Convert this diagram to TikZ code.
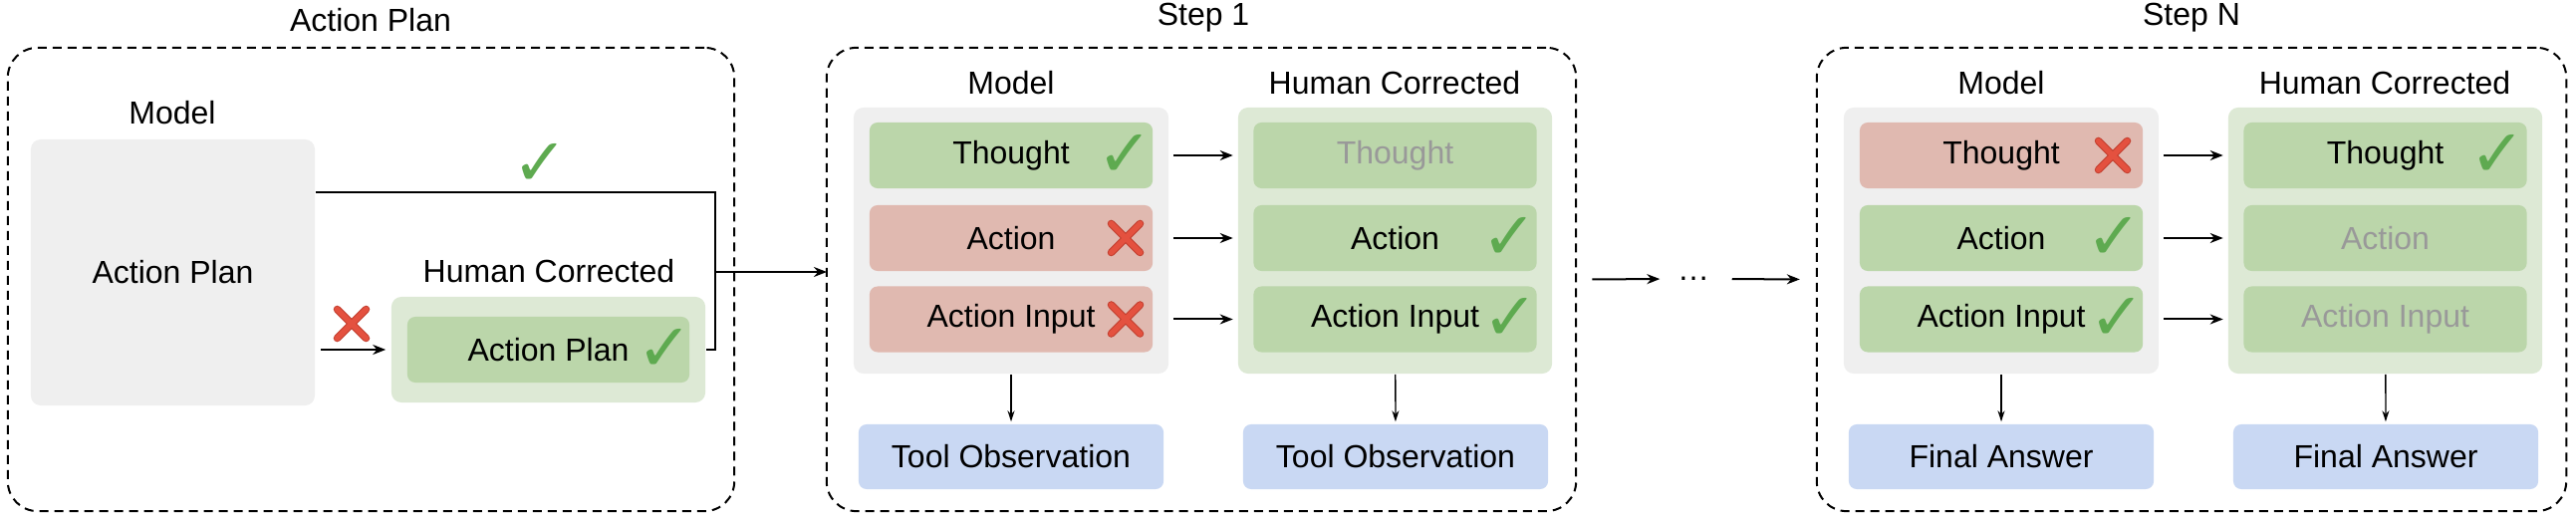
\documentclass[tikz,border=0pt]{standalone}
\usepackage{fontspec}
\setmainfont{Liberation Sans}
\newfontfamily\markfont{DejaVu Sans}
\usetikzlibrary{arrows.meta, positioning}
\definecolor{modelgray}{HTML}{EFEFEF}
\definecolor{hcgreen}{HTML}{DDE9D5}
\definecolor{okgreen}{HTML}{BBD6AA}
\definecolor{badred}{HTML}{E0B9B0}
\definecolor{obsblue}{HTML}{C9D8F3}
\definecolor{fadedgray}{HTML}{999999}
\definecolor{tickgreen}{HTML}{5EAA50}
\definecolor{crossred}{HTML}{E4513F}
\definecolor{crossdark}{HTML}{C23E2E}
\tikzstyle{dashframe} = [rectangle, draw=black, dash pattern=on 0.09cm off 0.06cm, line width=0.02cm, rounded corners=0.3cm, minimum width=7.52cm, minimum height=4.65cm]
\tikzstyle{modelbg} = [rectangle, rounded corners=0.1cm, fill=modelgray, minimum width=3.16cm, minimum height=2.67cm]
\tikzstyle{hcbg} = [rectangle, rounded corners=0.1cm, fill=hcgreen, minimum width=3.15cm, minimum height=2.67cm]
\tikzstyle{okbox} = [rectangle, rounded corners=0.08cm, fill=okgreen, minimum width=2.84cm, minimum height=0.66cm]
\tikzstyle{badbox} = [rectangle, rounded corners=0.08cm, fill=badred, minimum width=2.84cm, minimum height=0.66cm]
\tikzstyle{obsbox} = [rectangle, rounded corners=0.08cm, fill=obsblue, minimum width=3.06cm, minimum height=0.65cm]
\tikzstyle{faded} = [text=fadedgray]
\tikzstyle{okmark} = [inner sep=0, text=tickgreen, font=\markfont\fontsize{19}{19}\selectfont]
\tikzstyle{badmark} = [rectangle, inner sep=0, minimum size=0.42cm, path picture={
  \draw[crossdark, line width=0.075cm, line cap=round]
    ([shift={(0.065cm,-0.065cm)}]path picture bounding box.north west) -- ([shift={(-0.065cm,0.065cm)}]path picture bounding box.south east)
    ([shift={(-0.065cm,-0.065cm)}]path picture bounding box.north east) -- ([shift={(0.065cm,0.065cm)}]path picture bounding box.south west);
  \draw[crossred, line width=0.055cm, line cap=round]
    ([shift={(0.065cm,-0.065cm)}]path picture bounding box.north west) -- ([shift={(-0.065cm,0.065cm)}]path picture bounding box.south east)
    ([shift={(-0.065cm,-0.065cm)}]path picture bounding box.north east) -- ([shift={(0.065cm,0.065cm)}]path picture bounding box.south west);}]
\tikzstyle{line} = [line width=0.02cm]
\tikzstyle{arrow} = [line width=0.02cm, -{Stealth[length=0.13cm, width=0.1cm]}]
\tikzstyle{thinarrow} = [line width=0.013cm, -{Stealth[length=0.11cm, width=0.07cm]}]
\begin{document}
\begin{tikzpicture}[x=0.01cm, y=-0.01cm, font=\fontsize{9.1}{11}\selectfont]
\useasboundingbox (0,0) rectangle (2586,522);
% action plan
\node (apframe) [dashframe, minimum width=7.29cm] at (372.5,280.5) {};
\node (aptitle) at (372,20) {Action Plan};
\node (apmodellabel) at (173,113) {Model};
\node (apmodel) [modelbg, minimum width=2.85cm] at (173.5,273.5) {Action Plan};
\node (aphclabel) at (551,272) {Human Corrected};
\node (aphc) [hcbg, minimum height=1.06cm] at (550.5,351) {};
\node (apinner) [okbox, minimum width=2.83cm] at (550.5,351) {Action Plan};
\node (apinnerok) [okmark] at (667,351) {✓};
\node (aptopok) [okmark] at (542,165) {✓};
\node (apcross) [badmark] at (353,325) {};
\coordinate (aptop) at (718,193);
\coordinate (apjoin) at (718,273);
\draw [line] (apmodel.east |- aptop) -- (aptop) -- (aptop |- aphc.east) -- (aphc.east);
\draw [arrow, shorten <=0.05cm, shorten >=0.05cm] (apmodel.east |- aphc) -- (aphc.west);
\draw [arrow] (apjoin) -- (apjoin -| 830,0);
% step 1
\node (s1frame) [dashframe] at (1206,280.5) {};
\node (s1title) at (1208,18) {Step 1};
\node (s1modellabel) at (1015,83) {Model};
\node (s1hclabel) at (1400,83) {Human Corrected};
\node (s1model) [modelbg] at (1015,241.5) {};
\node (s1hc) [hcbg] at (1400.5,241.5) {};
\node (s1th) [okbox] at (1015,156) {Thought};
\node (s1act) [badbox] at (1015,239) {Action};
\node (s1inp) [badbox] at (1015,320.5) {Action Input};
\node (s1hth) [okbox, faded] at (1400.5,156) {Thought};
\node (s1hact) [okbox] at (1400.5,239) {Action};
\node (s1hinp) [okbox] at (1400.5,320.5) {Action Input};
\node (s1thok) [okmark] at (1129,156) {✓};
\node (s1actno) [badmark] at (1130,239) {};
\node (s1inpno) [badmark] at (1130,320.5) {};
\node (s1hactok) [okmark] at (1515,239) {✓};
\node (s1hinpok) [okmark] at (1516,320.5) {✓};
\node (s1obs) [obsbox] at (1015,458.5) {Tool Observation};
\node (s1hobs) [obsbox] at (1401,458.5) {Tool Observation};
\draw [arrow, shorten <=0.2cm, shorten >=0.2cm] (s1th) -- (s1hth);
\draw [arrow, shorten <=0.2cm, shorten >=0.2cm] (s1act) -- (s1hact);
\draw [arrow, shorten <=0.2cm, shorten >=0.2cm] (s1inp) -- (s1hinp);
\draw [thinarrow, shorten >=0.02cm] (s1model) -- (s1obs);
\draw [thinarrow, shorten >=0.02cm] (s1hc) -- (s1hobs);
% dots
\node (dots) [inner sep=0] at (1700,280) {\dots};
% step N
\node (sNframe) [dashframe] at (2200,280.5) {};
\node (sNtitle) at (2200,18) {Step N};
\node (sNmodellabel) at (2009,83) {Model};
\node (sNhclabel) at (2394,83) {Human Corrected};
\node (sNmodel) [modelbg] at (2009,241.5) {};
\node (sNhc) [hcbg] at (2394.5,241.5) {};
\node (sNth) [badbox] at (2009,156) {Thought};
\node (sNact) [okbox] at (2009,239) {Action};
\node (sNinp) [okbox] at (2009,320.5) {Action Input};
\node (sNhth) [okbox] at (2394.5,156) {Thought};
\node (sNhact) [okbox, faded] at (2394.5,239) {Action};
\node (sNhinp) [okbox, faded] at (2394.5,320.5) {Action Input};
\node (sNthno) [badmark] at (2121,156) {};
\node (sNactok) [okmark] at (2122,239) {✓};
\node (sNinpok) [okmark] at (2125,320.5) {✓};
\node (sNhthok) [okmark] at (2507,156) {✓};
\node (sNans) [obsbox] at (2009,458.5) {Final Answer};
\node (sNhans) [obsbox] at (2395,458.5) {Final Answer};
\draw [arrow, shorten <=0.2cm, shorten >=0.2cm] (sNth) -- (sNhth);
\draw [arrow, shorten <=0.2cm, shorten >=0.2cm] (sNact) -- (sNhact);
\draw [arrow, shorten <=0.2cm, shorten >=0.2cm] (sNinp) -- (sNhinp);
\draw [thinarrow, shorten >=0.02cm] (sNmodel) -- (sNans);
\draw [thinarrow, shorten >=0.02cm] (sNhc) -- (sNhans);
\draw [arrow, shorten <=0.15cm, shorten >=0.17cm] (s1frame.east) -- (dots.west);
\draw [arrow, shorten <=0.22cm, shorten >=0.16cm] (dots.east) -- (sNframe.west);
\end{tikzpicture}
\end{document}
